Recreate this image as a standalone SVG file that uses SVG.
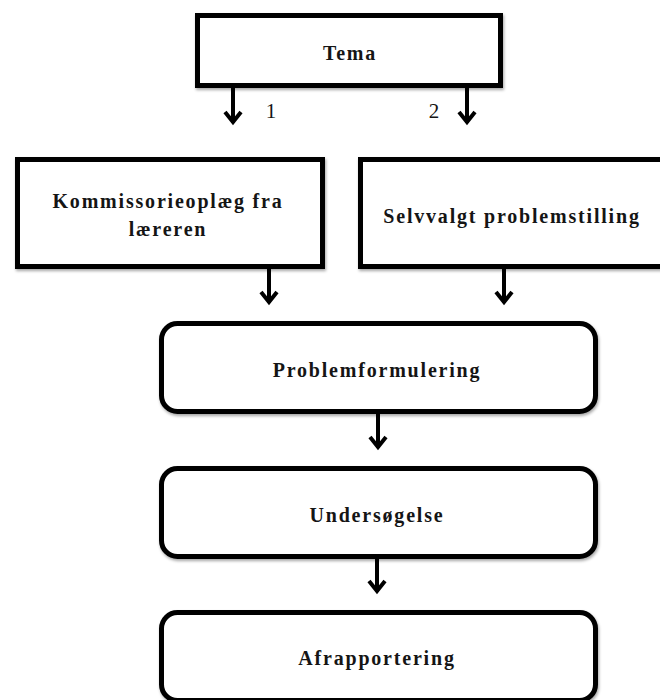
<svg xmlns="http://www.w3.org/2000/svg" width="660" height="700" viewBox="0 0 660 700">
<defs>
<style>
.box{fill:#fff;stroke:#000;stroke-width:5}
.lbl{font-family:"Liberation Serif","DejaVu Serif",serif;font-weight:bold;font-size:20px;letter-spacing:1.8px;fill:#151515;text-anchor:middle}
.num{font-family:"Liberation Serif","DejaVu Serif",serif;font-size:21px;fill:#151515;text-anchor:middle}
.conn{fill:none;stroke:#000;stroke-width:4}
.head{fill:none;stroke:#000;stroke-width:4;stroke-linejoin:miter;stroke-linecap:butt}
</style>
<filter id="sh" x="-5%" y="-5%" width="115%" height="120%">
<feDropShadow dx="1" dy="2" stdDeviation="1.5" flood-color="#000" flood-opacity="0.35"/>
</filter>
</defs>
<rect width="660" height="700" fill="#fff"/>
<g id="connectors">
<path class="conn" d="M233,88 V123"/><path class="head" d="M225,112 L233,122 L241,112"/>
<path class="conn" d="M467,88 V123"/><path class="head" d="M459,112 L467,122 L475,112"/>
<path class="conn" d="M269,268 V303"/><path class="head" d="M261,292 L269,302 L277,292"/>
<path class="conn" d="M504,268 V303"/><path class="head" d="M496,292 L504,302 L512,292"/>
<path class="conn" d="M378,413 V448"/><path class="head" d="M370,437 L378,447 L386,437"/>
<path class="conn" d="M377,557 V592"/><path class="head" d="M369,581 L377,591 L385,581"/>
<text class="num" x="271" y="118">1</text>
<text class="num" x="434" y="118">2</text>
</g>
<g id="tema">
<rect class="box" x="197.5" y="15.5" width="303" height="70" filter="url(#sh)"/>
<text class="lbl" x="350" y="60">Tema</text>
</g>
<g id="kommissorie">
<rect class="box" x="17.5" y="159.5" width="305" height="107" filter="url(#sh)"/>
<text class="lbl" x="168" y="208">Kommissorieoplæg fra</text>
<text class="lbl" x="168" y="236">læreren</text>
</g>
<g id="selvvalgt">
<rect class="box" x="360.5" y="159.5" width="305" height="107" filter="url(#sh)"/>
<text class="lbl" x="512" y="223">Selvvalgt problemstilling</text>
</g>
<g id="problemformulering">
<rect class="box" x="161.5" y="323.5" width="434" height="88" rx="16" filter="url(#sh)"/>
<text class="lbl" x="377" y="377">Problemformulering</text>
</g>
<g id="undersoegelse">
<rect class="box" x="161.5" y="468.5" width="434" height="88" rx="16" filter="url(#sh)"/>
<text class="lbl" x="377" y="522">Undersøgelse</text>
</g>
<g id="afrapportering">
<rect class="box" x="161.5" y="612.5" width="434" height="88" rx="16" filter="url(#sh)"/>
<text class="lbl" x="377" y="665">Afrapportering</text>
</g>
</svg>
